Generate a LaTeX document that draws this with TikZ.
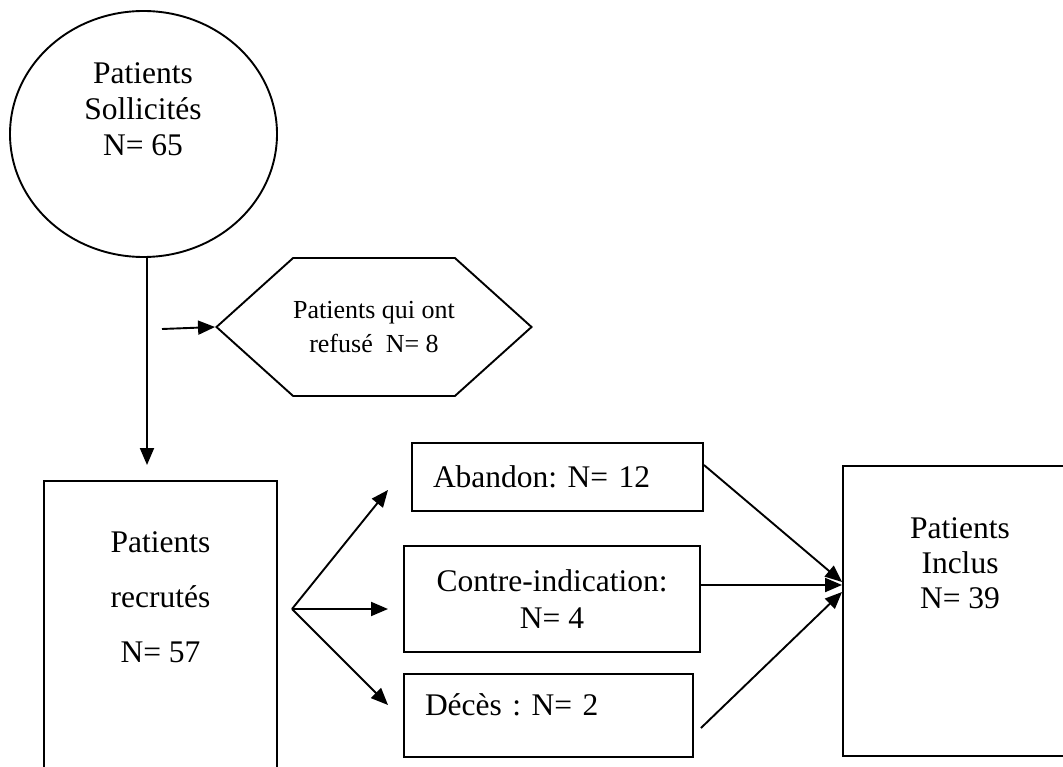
\documentclass[tikz,border=0pt]{standalone}
\usepackage{fontspec}
\setmainfont{Liberation Serif}
\usetikzlibrary{arrows.meta,shapes.geometric,shapes.symbols}
\frenchspacing

\tikzset{
  arr/.style={-{Triangle[length=17pt,width=14pt]}},
  bigtxt/.style={font=\fontsize{31.5}{36}\selectfont, align=center, inner sep=0pt},
  boxshape/.style={draw, rectangle, inner sep=0pt}
}

\begin{document}
\begin{tikzpicture}[x=1pt,y=1pt,yscale=-1,line width=1.9pt]
\useasboundingbox (0,0) rectangle (1063,767);

%Shape: Ellipse
\node [draw, ellipse, minimum width=267pt, minimum height=246pt, inner sep=0pt] (sollic) at (143.5,134) {};
% Text Node
\node [bigtxt] (sollictxt) at (143,109) {Patients\\Sollicités\\N= 65};

%Shape: Hexagon
\node [draw, signal, signal to=east and west, signal pointer angle=84, minimum width=308pt, minimum height=138pt, inner sep=0pt, font=\fontsize{26}{34}\selectfont, align=center] (refus) at (374,327) {Patients qui ont\\refusé~ N= 8};

%Shape: Rectangles
\node [boxshape, minimum width=233pt, minimum height=294pt] (recrut) at (160.5,628) {};
\node [bigtxt, font=\fontsize{31.5}{55}\selectfont] (recruttxt) at (160.5,597) {Patients\\recrutés\\N= 57};

\node [boxshape, minimum width=291pt, minimum height=68pt, text width=249pt, inner xsep=21pt, align=left, font=\fontsize{31.5}{36}\selectfont] (aband) at (557.5,477) {Abandon: N= 12};
\node [boxshape, minimum width=296pt, minimum height=106pt, align=center, font=\fontsize{31.5}{37}\selectfont] (contre) at (552,599) {Contre-indication:\\N= 4};
\node [boxshape, minimum width=289pt, minimum height=83pt, text width=247pt, inner xsep=21pt, align=left, text height=20pt, text depth=20pt, font=\fontsize{31.5}{36}\selectfont] (deces) at (548.5,715.5) {Décès : N= 2};

\node [boxshape, minimum width=234pt, minimum height=290pt] (inclus) at (960,611) {};
\node [bigtxt, font=\fontsize{31.5}{35}\selectfont] (inclustxt) at (960,563) {Patients\\Inclus\\N= 39};

% Coordinates
\coordinate (down) at (147,465);
\coordinate (side) at (162,329);
\coordinate (fan) at (292,609);
\coordinate (t1) at (388,490);
\coordinate (t2) at (388,609);
\coordinate (t3) at (388,705);

%Straight Lines
\draw [arr] ([xshift=3.5pt]sollic.south) -- (down);
\draw [arr] (side) -- (refus.west);
\draw [arr] (fan) -- (t1);
\draw [arr] (fan) -- (t2);
\draw [arr] (fan) -- (t3);
\draw [arr] ([yshift=-12pt]aband.east) -- ([yshift=-29pt]inclus.west);
\draw [arr] ([yshift=-14pt]contre.east) -- ([yshift=-26pt]inclus.west);
\draw [arr] ([xshift=7pt,yshift=12.5pt]deces.east) -- ([yshift=-19pt]inclus.west);

\end{tikzpicture}
\end{document}
